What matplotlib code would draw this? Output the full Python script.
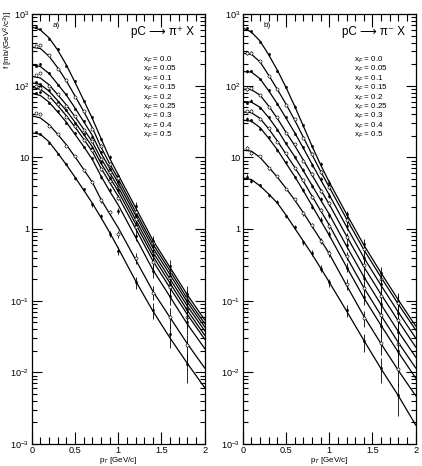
import matplotlib
matplotlib.use("Agg")
import matplotlib.pyplot as plt
from matplotlib.ticker import FixedLocator, FixedFormatter, MultipleLocator
import numpy as np

plt.rcParams['font.family'] = ['Liberation Sans', 'DejaVu Sans']
plt.rcParams['mathtext.fontset'] = 'custom'
plt.rcParams['mathtext.rm'] = 'Liberation Sans'
plt.rcParams['mathtext.it'] = 'Liberation Sans:italic'
plt.rcParams['mathtext.bf'] = 'Liberation Sans:bold'

# ---------------- data ----------------
xF_labels = ["0.0", "0.05", "0.1", "0.15", "0.2", "0.25", "0.3", "0.4", "0.5"]

# pT grid of the fitted curves
pt_curve = [0.0, 0.1, 0.2, 0.3, 0.4, 0.5, 0.6, 0.7, 0.8, 0.9, 1.0, 1.2, 1.4, 1.6, 1.8, 2.0]
# pT of the measured points
pt_data = [0.05, 0.1, 0.2, 0.3, 0.4, 0.5, 0.6, 0.7, 0.8, 0.9, 1.0, 1.2, 1.4, 1.6, 1.8]

# ---- panel a) pC -> pi+ X : fitted curves
piplus_fit_00 = [660, 600, 465, 315, 195, 112, 63, 35, 18.5, 9.8, 5.7, 2.0, 0.70, 0.29, 0.12, 0.054]
piplus_fit_05 = [345, 330, 258, 178, 117, 72, 44, 26, 14.0, 8.2, 5.0, 1.75, 0.62, 0.26, 0.106, 0.048]
piplus_fit_10 = [195, 185, 148, 105, 74, 49, 31.6, 20.3, 11.5, 7.1, 4.4, 1.56, 0.55, 0.23, 0.095, 0.043]
piplus_fit_15 = [135, 128, 103, 75, 54, 37, 24.8, 16.5, 9.7, 6.1, 3.85, 1.36, 0.48, 0.20, 0.084, 0.038]
piplus_fit_20 = [110, 104, 84, 62, 45, 31, 21, 14.1, 8.3, 5.3, 3.36, 1.19, 0.42, 0.175, 0.073, 0.033]
piplus_fit_25 = [95, 89, 72, 53, 38, 26.5, 18, 12.1, 7.1, 4.5, 2.86, 1.02, 0.36, 0.15, 0.064, 0.029]
piplus_fit_30 = [78, 73, 59, 43, 31, 21, 14.2, 9.4, 5.5, 3.4, 2.17, 0.77, 0.27, 0.113, 0.047, 0.0215]
piplus_fit_40 = [38, 35.5, 28.6, 21, 15, 10.2, 6.8, 4.5, 2.6, 1.64, 1.04, 0.376, 0.136, 0.058, 0.025, 0.0115]
piplus_fit_50 = [22, 21, 16.5, 11.5, 7.9, 5.3, 3.5, 2.3, 1.45, 0.9, 0.54, 0.19, 0.072, 0.030, 0.0133, 0.0061]

# ---- panel a) measured points
piplus_dat_00 = [650, 610, 455, 325, 190, 115, 61, 36, 18, 10.2, 5.5, 2.1, 0.68, 0.30, 0.125]
piplus_dat_05 = [360, 370, 265, 172, 120, 70, 45, 25, 14.5, 8.0, 5.2, 1.7, 0.64, 0.25, 0.11]
piplus_dat_10 = [190, 200, 150, 101, 76, 48, 32.5, 19.5, 11.8, 6.9, 4.5, 1.5, 0.57, 0.22, 0.098]
piplus_dat_15 = [140, 150, 100, 77, 52, 38, 24, 17, 9.4, 6.3, 3.7, 1.4, 0.46, 0.21, 0.08]
piplus_dat_20 = [112, 105, 86, 60, 46, 30, 21.5, 13.6, 8.6, 5.1, 3.5, 1.15, 0.44, 0.17, 0.076]
piplus_dat_25 = [100, 92, 70, 55, 37, 27.5, 17.5, 12.5, 6.8, 4.7, 2.75, 1.06, 0.35, 0.155, 0.06]
piplus_dat_30 = [80, 82, 57, 44, 30, 21.8, 13.8, 9.7, 5.3, 3.5, 1.8, 0.8, 0.26, 0.118, 0.05]
piplus_dat_40 = [41, 40, 27.5, 21.5, 14.5, 10.5, 6.6, 4.6, 2.5, 1.7, 0.85, 0.39, 0.13, 0.06, 0.024]
piplus_dat_50 = [22.5, 21.5, 15.8, 11.2, 8.1, 5.1, 3.6, 2.2, 1.5, 0.85, 0.5, 0.18, 0.075, 0.034, 0.013]

# ---- panel b) pC -> pi- X : fitted curves
piminus_fit_00 = [638, 561, 420, 270, 165, 95, 52, 27.5, 14.5, 7.9, 4.53, 1.62, 0.60, 0.243, 0.102, 0.0443]
piminus_fit_05 = [283, 275, 215, 140, 89, 55.5, 33.2, 19.2, 11.0, 6.4, 3.85, 1.39, 0.516, 0.211, 0.089, 0.039]
piminus_fit_10 = [157, 155, 125, 85, 56, 35.4, 22.2, 13.5, 8.1, 4.9, 3.0, 1.08, 0.40, 0.163, 0.069, 0.030]
piminus_fit_15 = [89, 88, 74, 52, 35, 22.4, 14.7, 9.2, 5.7, 3.55, 2.22, 0.80, 0.298, 0.122, 0.052, 0.0225]
piminus_fit_20 = [60, 59, 50, 36, 24.5, 15.6, 10.3, 6.5, 4.1, 2.55, 1.61, 0.58, 0.216, 0.088, 0.037, 0.0163]
piminus_fit_25 = [43, 42, 35, 25, 17, 11.1, 7.3, 4.65, 2.9, 1.81, 1.14, 0.41, 0.152, 0.062, 0.026, 0.0115]
piminus_fit_30 = [33, 32, 26, 18.5, 12.8, 8.3, 5.45, 3.43, 2.13, 1.32, 0.82, 0.297, 0.110, 0.045, 0.019, 0.0083]
piminus_fit_40 = [12.6, 12.2, 10.0, 7.3, 5.3, 3.7, 2.55, 1.69, 1.10, 0.71, 0.453, 0.164, 0.061, 0.025, 0.0106, 0.0047]
piminus_fit_50 = [5.15, 4.9, 4.0, 3.08, 2.31, 1.57, 1.03, 0.68, 0.448, 0.286, 0.182, 0.072, 0.028, 0.0112, 0.0047, 0.00184]

# ---- panel b) measured points
piminus_dat_00 = [630, 570, 410, 275, 160, 97, 51, 28, 14.2, 8.1, 4.4, 1.6, 0.62, 0.24, 0.10]
piminus_dat_05 = [285, 290, 220, 137, 91, 54, 34, 18.8, 11.3, 6.2, 3.9, 1.35, 0.53, 0.20, 0.092]
piminus_dat_10 = [158, 160, 122, 87, 55, 36, 21.5, 13.8, 7.9, 5.0, 2.9, 1.1, 0.39, 0.17, 0.067]
piminus_dat_15 = [90, 92, 73, 50, 36, 22, 15.2, 9.0, 5.9, 3.4, 2.3, 0.78, 0.31, 0.118, 0.054]
piminus_dat_20 = [58, 62, 49, 37, 24, 16, 10, 6.7, 4.0, 2.6, 1.55, 0.6, 0.21, 0.09, 0.036]
piminus_dat_25 = [44, 45, 34, 25.5, 16.5, 11.5, 7.0, 4.8, 2.8, 1.85, 1.1, 0.42, 0.148, 0.064, 0.025]
piminus_dat_30 = [34, 33, 25, 19, 12.5, 8.6, 5.3, 3.5, 2.05, 1.35, 0.85, 0.29, 0.112, 0.044, 0.02]
piminus_dat_40 = [13.5, 11.5, 10.3, 7.0, 5.5, 3.6, 2.6, 1.65, 1.13, 0.69, 0.46, 0.17, 0.058, 0.026, 0.011]
piminus_dat_50 = [5.4, 4.7, 4.1, 2.95, 2.4, 1.5, 1.06, 0.66, 0.46, 0.28, 0.18, 0.074, 0.027, 0.0115, 0.0048]

# relative errors of the points (per pT bin) and growth with xF
rel_err_piplus = [0.02, 0.02, 0.02, 0.02, 0.02, 0.03, 0.03, 0.04, 0.05, 0.06, 0.08, 0.12, 0.16, 0.22, 0.28]
rel_err_piminus = [0.05, 0.04, 0.03, 0.03, 0.03, 0.03, 0.04, 0.05, 0.06, 0.07, 0.08, 0.12, 0.18, 0.24, 0.30]
err_scale_xF = [1.0, 1.0, 1.0, 1.0, 1.05, 1.1, 1.2, 1.4, 1.6]

piplus_fits = [piplus_fit_00, piplus_fit_05, piplus_fit_10, piplus_fit_15, piplus_fit_20,
               piplus_fit_25, piplus_fit_30, piplus_fit_40, piplus_fit_50]
piplus_data = [piplus_dat_00, piplus_dat_05, piplus_dat_10, piplus_dat_15, piplus_dat_20,
               piplus_dat_25, piplus_dat_30, piplus_dat_40, piplus_dat_50]
piminus_fits = [piminus_fit_00, piminus_fit_05, piminus_fit_10, piminus_fit_15, piminus_fit_20,
                piminus_fit_25, piminus_fit_30, piminus_fit_40, piminus_fit_50]
piminus_data = [piminus_dat_00, piminus_dat_05, piminus_dat_10, piminus_dat_15, piminus_dat_20,
                piminus_dat_25, piminus_dat_30, piminus_dat_40, piminus_dat_50]

y_ticks = [1e-3, 1e-2, 1e-1, 1, 10, 1e2, 1e3]
y_ticklabels = ["$10^{-3}$", "$10^{-2}$", "$10^{-1}$", "1", "10", "$10^{2}$", "$10^{3}$"]
x_ticks = [0, 0.5, 1, 1.5, 2]
x_ticklabels = ["0", "0.5", "1", "1.5", "2"]

# ---------------- figure ----------------
W, H = 422, 466
fig = plt.figure(figsize=(W / 100, H / 100), dpi=100)
axL = fig.add_axes([31.7 / W, 22 / H, 173 / W, 430 / H])
axR = fig.add_axes([242.7 / W, 22 / H, 173 / W, 430 / H])

FS = 5.8
TFS = 6.6
FAM = ['Liberation Sans', 'DejaVu Sans']


def draw_panel(ax, fits, data, rel_err, tag, reaction):
    ax.set_yscale('log')
    ax.set_xlim(0, 2)
    ax.set_ylim(1e-3, 1e3)
    for i, (fit, dat) in enumerate(zip(fits, data)):
        ax.plot(pt_curve, fit, color='black', lw=0.9, solid_joinstyle='round')
        dat = np.asarray(dat, float)
        err = dat * np.asarray(rel_err) * err_scale_xF[i]
        ax.errorbar(pt_data, dat, yerr=err, fmt='none', ecolor='black', elinewidth=0.6, capsize=0)
        if i % 2 == 0:
            ax.plot(pt_data, dat, 'o', ms=1.6, mfc='black', mec='black', mew=0.4, ls='none')
        else:
            ax.plot(pt_data, dat, 'o', ms=2.2, mfc='white', mec='black', mew=0.45, ls='none')
    ax.yaxis.set_major_locator(FixedLocator(y_ticks))
    ax.yaxis.set_major_formatter(FixedFormatter(y_ticklabels))
    minors = [m * 10.0 ** e for e in range(-3, 3) for m in range(2, 10)]
    ax.yaxis.set_minor_locator(FixedLocator(minors))
    ax.xaxis.set_major_locator(FixedLocator(x_ticks))
    ax.xaxis.set_major_formatter(FixedFormatter(x_ticklabels))
    ax.xaxis.set_minor_locator(MultipleLocator(0.1))
    ax.tick_params(which='both', direction='in', top=True, right=True, labelsize=TFS, width=0.8, pad=1.5)
    ax.tick_params(axis='x', which='major', length=9)
    ax.tick_params(axis='x', which='minor', length=5)
    ax.tick_params(axis='y', which='major', length=7)
    ax.tick_params(axis='y', which='minor', length=3.5)
    ax.yaxis.set_minor_formatter(FixedFormatter([]))
    for sp in ax.spines.values():
        sp.set_linewidth(0.9)
    ax.set_xlabel("p$_{T}$ [GeV/c]", fontsize=FS)
    ax.xaxis.set_label_coords(0.5, -0.025)
    ax.text(0.12, 0.982, tag, transform=ax.transAxes, fontsize=FS, ha='left', va='top')
    ax.text(0.755, 0.958, reaction, transform=ax.transAxes, fontsize=8.4, ha='center',
            va='center', family=FAM)
    for k, lab in enumerate(xF_labels):
        ax.text(0.645, 0.893 - k * 0.0218, "x$_{F}$ = " + lab, transform=ax.transAxes,
                fontsize=FS, ha='left', va='center')


draw_panel(axL, piplus_fits, piplus_data, rel_err_piplus, "a)", "pC \u27f6 \u03c0\u207a X")
draw_panel(axR, piminus_fits, piminus_data, rel_err_piminus, "b)", "pC \u27f6 \u03c0\u207b X")

fig.text(8 / W, 1 - 11 / H, "f [mb/(GeV$^{2}$/c$^{3}$)]", rotation=90, fontsize=FS,
         ha='center', va='top')

fig.savefig("out.png", dpi=100)
